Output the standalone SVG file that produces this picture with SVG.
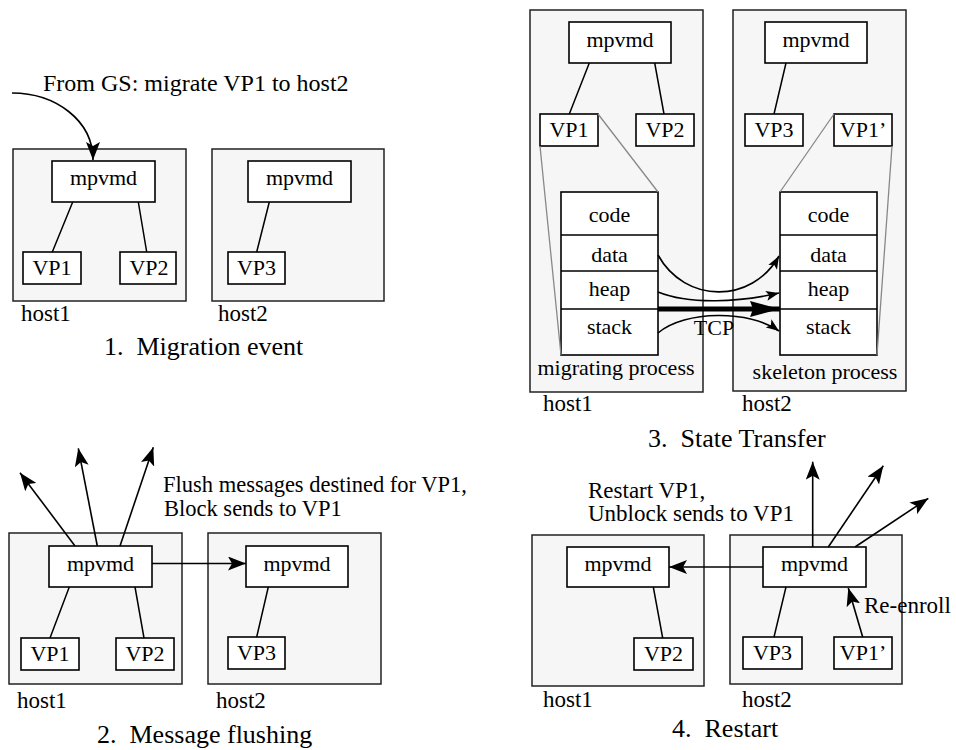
<svg xmlns="http://www.w3.org/2000/svg" width="956" height="750" viewBox="0 0 956 750">
<style>
.host{fill:#f6f6f6;stroke:#222;stroke-width:1.5}
.box{fill:#fff;stroke:#000;stroke-width:1.6}
.ln{stroke:#000;stroke-width:1.5;fill:none}
.gray{stroke:#888;stroke-width:1.3;fill:none}
text{font-family:"Liberation Serif","Times New Roman",serif;fill:#000}
.t{font-size:22px;text-anchor:middle}
.lbl{font-size:23px}
.cap{font-size:26px}
.arr{stroke:#000;stroke-width:1.6;fill:none;marker-end:url(#ah)}
.arrs{stroke:#000;stroke-width:1.6;fill:none;marker-end:url(#ahs)}
</style>
<defs>
<marker id="ah" markerUnits="userSpaceOnUse" markerWidth="20" markerHeight="14" refX="18" refY="7" orient="auto"><path d="M0,0 L18,7 L0,14 L4,7 z" fill="#000"/></marker>
<marker id="ahs" markerUnits="userSpaceOnUse" markerWidth="14" markerHeight="10" refX="13" refY="5" orient="auto"><path d="M0,0 L13,5 L0,10 L3,5 z" fill="#000"/></marker>
<marker id="ahb" markerUnits="userSpaceOnUse" markerWidth="32" markerHeight="18" refX="30" refY="8" orient="auto"><path d="M0,0 L30,8 L0,16 L3,8 z" fill="#000"/></marker>
</defs>

<!-- Panel 1 -->
<g id="p1-host1"><rect class="host" x="13" y="149" width="173" height="152"/><text class="lbl" x="21" y="321">host1</text></g>
<g id="p1-host2"><rect class="host" x="212" y="149" width="172" height="152"/><text class="lbl" x="218" y="321">host2</text></g>
<g id="p1-mpvmd1"><rect class="box" x="52" y="161" width="103" height="41"/><text class="t" x="103.5" y="185">mpvmd</text></g>
<g id="p1-vp1"><rect class="box" x="23" y="252" width="58" height="32"/><text class="t" x="52" y="275">VP1</text></g>
<g id="p1-vp2"><rect class="box" x="120" y="252" width="56" height="32"/><text class="t" x="149" y="275">VP2</text></g>
<g id="p1-mpvmd2"><rect class="box" x="248" y="161" width="103" height="41"/><text class="t" x="299.5" y="185">mpvmd</text></g>
<g id="p1-vp3"><rect class="box" x="228" y="252" width="57" height="32"/><text class="t" x="256.5" y="275">VP3</text></g>
<text class="lbl" x="43" y="91" style="font-size:24px">From GS: migrate VP1 to host2</text>
<text class="cap" x="104" y="355" xml:space="preserve">1.  Migration event</text>

<!-- Panel 3 -->
<g id="p3-host1"><rect class="host" x="530" y="10" width="173" height="382"/><text class="lbl" x="543" y="411">host1</text></g>
<g id="p3-host2"><rect class="host" x="733" y="10" width="173" height="381"/><text class="lbl" x="742" y="411">host2</text></g>
<g id="p3-mpvmd1"><rect class="box" x="569" y="22" width="102" height="41"/><text class="t" x="620" y="47">mpvmd</text></g>
<g id="p3-vp1"><rect class="box" x="540" y="114" width="58" height="32"/><text class="t" x="569" y="137">VP1</text></g>
<g id="p3-vp2"><rect class="box" x="636" y="114" width="58" height="32"/><text class="t" x="665" y="137">VP2</text></g>
<g id="p3-mpvmd2"><rect class="box" x="765" y="22" width="102" height="41"/><text class="t" x="816" y="47">mpvmd</text></g>
<g id="p3-vp3"><rect class="box" x="745" y="114" width="58" height="32"/><text class="t" x="774" y="137">VP3</text></g>
<g id="p3-vp1p"><rect class="box" x="834" y="114" width="58" height="32"/><text class="t" x="863" y="137">VP1’</text></g>
<g id="p3-proc1">
<rect class="box" x="561" y="192" width="97" height="163"/>
<path class="ln" d="M561,235 H658 M561,271 H658 M561,309 H658"/>
<text class="t" x="609.5" y="222">code</text>
<text class="t" x="609.5" y="262">data</text>
<text class="t" x="609.5" y="296">heap</text>
<text class="t" x="609.5" y="334">stack</text>
<text class="t" x="616" y="375">migrating process</text>
</g>
<g id="p3-proc2">
<rect class="box" x="780" y="192" width="97" height="163"/>
<path class="ln" d="M780,235 H877 M780,271 H877 M780,309 H877"/>
<text class="t" x="828.5" y="222">code</text>
<text class="t" x="828.5" y="262">data</text>
<text class="t" x="828.5" y="296">heap</text>
<text class="t" x="828.5" y="334">stack</text>
<text class="t" x="825" y="379">skeleton process</text>
</g>
<text class="t" x="714" y="335">TCP</text>
<text class="cap" x="648" y="447" xml:space="preserve">3.  State Transfer</text>

<!-- Panel 2 -->
<g id="p2-host1"><rect class="host" x="9" y="533" width="173" height="151"/><text class="lbl" x="17" y="708">host1</text></g>
<g id="p2-host2"><rect class="host" x="208" y="533" width="173" height="151"/><text class="lbl" x="216" y="708">host2</text></g>
<g id="p2-mpvmd1"><rect class="box" x="49" y="546" width="103" height="41"/><text class="t" x="100.5" y="571">mpvmd</text></g>
<g id="p2-vp1"><rect class="box" x="21" y="638" width="58" height="32"/><text class="t" x="50" y="661">VP1</text></g>
<g id="p2-vp2"><rect class="box" x="116" y="638" width="58" height="32"/><text class="t" x="145" y="661">VP2</text></g>
<g id="p2-mpvmd2"><rect class="box" x="246" y="546" width="102" height="41"/><text class="t" x="297" y="571">mpvmd</text></g>
<g id="p2-vp3"><rect class="box" x="228" y="637" width="57" height="32"/><text class="t" x="256.5" y="660">VP3</text></g>
<text class="lbl" x="163" y="492" style="font-size:22.5px">Flush messages destined for VP1,</text>
<text class="lbl" x="164" y="516" style="font-size:22.5px">Block sends to VP1</text>
<text class="cap" x="97" y="743" xml:space="preserve">2.  Message flushing</text>

<!-- Panel 4 -->
<g id="p4-host1"><rect class="host" x="532" y="535" width="172" height="151"/><text class="lbl" x="543" y="707">host1</text></g>
<g id="p4-host2"><rect class="host" x="730" y="535" width="172" height="149"/><text class="lbl" x="742" y="707">host2</text></g>
<g id="p4-mpvmd1"><rect class="box" x="567" y="547" width="102" height="40"/><text class="t" x="618" y="571">mpvmd</text></g>
<g id="p4-vp2"><rect class="box" x="634" y="638" width="59" height="32"/><text class="t" x="663.5" y="661">VP2</text></g>
<g id="p4-mpvmd2"><rect class="box" x="763" y="547" width="103" height="40"/><text class="t" x="814.5" y="571">mpvmd</text></g>
<g id="p4-vp3"><rect class="box" x="743" y="637" width="59" height="32"/><text class="t" x="772.5" y="660">VP3</text></g>
<g id="p4-vp1p"><rect class="box" x="834" y="637" width="58" height="32"/><text class="t" x="863" y="660">VP1’</text></g>
<text class="lbl" x="588" y="498">Restart VP1,</text>
<text class="lbl" x="588" y="521">Unblock sends to VP1</text>
<text class="lbl" x="864" y="613">Re-enroll</text>
<text class="cap" x="672" y="737" xml:space="preserve">4.  Restart</text>

<g id="connectors">
<path class="arr" d="M12,93 C55,93 93,120 93,160"/>
<path class="ln" d="M72.7,202 L52.3,252 M138.3,202 L146.7,252 M269.3,202 L256.7,252"/>
<path class="ln" d="M589.3,63 L569.3,114 M654.7,63 L664,114 M786,63 L774,114"/>
<path class="gray" d="M540,146 L561,355 M598,114 L658,192 M834,114 L780,192 M892,146 L877,355"/>
<path class="arrs" d="M658,255 C685,304 752,304 779,256"/>
<path class="arrs" d="M658,292 C690,305 740,302 779,293"/>
<path class="arrs" d="M658,333 C685,310 750,310 779,331"/>
<path d="M658,309 L780,309" stroke="#000" stroke-width="5" fill="none" marker-end="url(#ahb)"/>
<path class="ln" d="M69.3,587 L50,638 M135,587 L144,638 M268.3,587 L256.7,637"/>
<path class="arr" d="M152,563.5 L246,563.5"/>
<path class="arr" d="M75,546 L20,472.7"/>
<path class="arr" d="M97.3,546 L78.3,448.3"/>
<path class="arr" d="M120,546 L153.3,447.3"/>
<path class="ln" d="M653.3,587 L662.7,638 M786,587 L774,637"/>
<path class="arr" d="M763,567 L669,567"/>
<path class="arr" d="M862.7,637 L848.3,588"/>
<path class="arr" d="M812.7,547 L812.7,461.7"/>
<path class="arr" d="M828.3,547 L883.3,465.7"/>
<path class="arr" d="M855,547 L928.3,498.3"/>
</g>
</svg>
